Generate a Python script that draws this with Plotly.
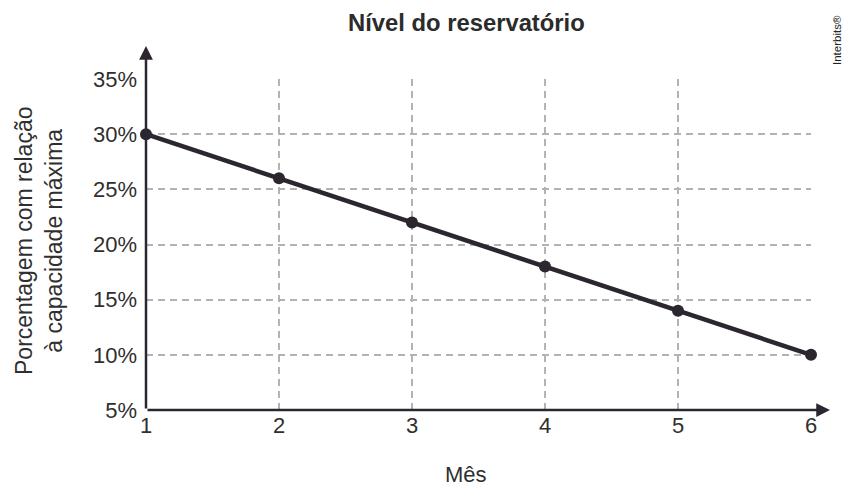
import plotly.graph_objects as go

meses = [1, 2, 3, 4, 5, 6]
nivel = [30, 26, 22, 18, 14, 10]
y_ticks = [5, 10, 15, 20, 25, 30, 35]
y_labels = ["5%", "10%", "15%", "20%", "25%", "30%", "35%"]

dark = "#2b2630"
grid = "#b3b3b3"
txt = "#2f2f2f"
font = "Liberation Sans, Arial, sans-serif"

fig = go.Figure()
fig.add_trace(go.Scatter(
    x=meses, y=nivel, mode="lines+markers",
    line=dict(color=dark, width=4.5),
    marker=dict(color=dark, size=12),
    cliponaxis=False, showlegend=False,
))

W, H = 855, 492
OFF = 8  # page offset
L, T = 146 - OFF, 79 - OFF
pw, ph = 665, 331
R, B = W - L - pw, H - T - ph

def px(xr):  # reference x pixel -> paper
    return (xr - 146) / pw

def py(yr):  # reference y pixel -> paper
    return (410 - yr) / ph

fig.update_layout(
    width=W, height=H,
    margin=dict(l=L, r=R, t=T, b=B),
    paper_bgcolor="white", plot_bgcolor="white",
    font=dict(family=font, color=txt),
    xaxis=dict(range=[1, 6], tickmode="array", tickvals=meses,
               ticktext=[str(m) for m in meses], showgrid=True,
               gridcolor=grid, griddash="7px,5px", gridwidth=2,
               showline=False, zeroline=False, ticks="",
               tickfont=dict(size=22, color=txt)),
    yaxis=dict(range=[5, 35], tickmode="array", tickvals=y_ticks, ticktext=y_labels,
               showgrid=True, gridcolor=grid, griddash="7px,5px", gridwidth=2,
               showline=False, zeroline=False, ticks="", ticklabelstandoff=8,
               tickfont=dict(size=22, color=txt)),
)

# title
fig.add_annotation(xref="paper", yref="paper", x=px(466), y=py(22),
                   text="<b>Nível do reservatório</b>", showarrow=False,
                   xanchor="center", yanchor="middle",
                   font=dict(size=23.8, color="#2b2b2b", family=font))
# axis titles
fig.add_annotation(xref="paper", yref="paper", x=px(466), y=py(474),
                   text="Mês", showarrow=False, xanchor="center", yanchor="middle",
                   font=dict(size=22, color=txt, family=font))
fig.add_annotation(xref="paper", yref="paper", x=px(39), y=py(241),
                   text="Porcentagem com relação<br>à capacidade máxima",
                   textangle=-90, showarrow=False, xanchor="center", yanchor="middle",
                   font=dict(size=23, color=txt, family=font))

# axis lines with arrows
fig.add_annotation(xref="paper", yref="paper", x=px(830), y=0,
                   ax=-(830 - 146), ay=0, showarrow=True, arrowhead=2,
                   arrowsize=1.1, arrowwidth=2.5, arrowcolor=dark, text="")
fig.add_annotation(xref="paper", yref="paper", x=0, y=py(46),
                   ax=0, ay=(410 - 46), showarrow=True, arrowhead=2,
                   arrowsize=1.1, arrowwidth=2.5, arrowcolor=dark, text="")

fig.add_annotation(xref="paper", yref="paper", x=px(837), y=py(40),
                   text="Interbits®", textangle=-90, showarrow=False,
                   xanchor="center", yanchor="middle",
                   font=dict(size=11.5, color="#222222", family=font))

fig.write_html("out.html")
